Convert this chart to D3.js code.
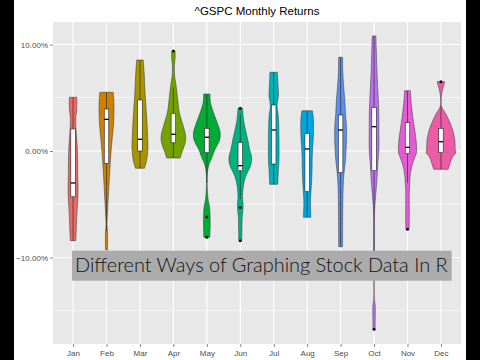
<!DOCTYPE html>
<html><head><meta charset="utf-8">
<script src="https://cdn.jsdelivr.net/npm/d3@7"></script>
<style>html,body{margin:0;padding:0;background:#fff;}svg{display:block;}</style>
</head><body>
<script>
const months = ["Jan","Feb","Mar","Apr","May","Jun","Jul","Aug","Sep","Oct","Nov","Dec"];
const fillColors = ["#F8766D","#DE8C00","#B79F00","#7CAE00","#00BA38","#00C08B","#00BFC4","#00B4F0","#619CFF","#C77CFF","#F564E3","#FF64B0"];
const majorTicks = [-10, 0, 10];
const minorTicks = [-15, -5, 5];
const title = "^GSPC Monthly Returns";
const overlayText = "Different Ways of Graphing Stock Data In R";

// violin profiles: [monthly return %, relative density]
const janProfile = [[5.04,0.25],[3.85,0.24],[3.1,0.18],[1.97,0.2],[0.09,0.29],[-2.07,0.31],[-3.94,0.33],[-6.0,0.25],[-7.9,0.2],[-8.42,0.18]];
const febProfile = [[5.51,0.45],[4.16,0.5],[2.63,0.47],[1.03,0.37],[0.09,0.31],[-1.78,0.22],[-3.0,0.17],[-4.6,0.11],[-6.17,0.05],[-6.95,0.03],[-7.7,0.07],[-8.8,0.07],[-9.3,0.06]];
const marProfile = [[8.54,0.22],[7.32,0.28],[5.73,0.33],[4.16,0.4],[2.63,0.47],[1.03,0.52],[0.3,0.53],[-0.85,0.45],[-1.62,0.3]];
const aprProfile = [[9.39,0.11],[8.92,0.12],[8.36,0.09],[7.79,0.06],[6.95,0.09],[6.04,0.19],[4.79,0.29],[3.57,0.4],[2.28,0.67],[1.34,0.82],[0.75,0.78],[-0.19,0.55],[-0.66,0.45]];
const mayProfile = [[5.35,0.21],[4.48,0.25],[3.57,0.45],[2.63,0.7],[1.69,0.89],[1.03,0.85],[0.09,0.52],[-0.38,0.4],[-0.85,0.27],[-1.31,0.13],[-2.07,0.04],[-3.38,0.03],[-4.6,0.09],[-5.23,0.18],[-6.17,0.22],[-7.1,0.22],[-8.1,0.2]];
const junProfile = [[4.01,0.15],[2.91,0.22],[1.97,0.35],[1.03,0.5],[0.09,0.63],[-0.56,0.75],[-1.31,0.7],[-2.41,0.35],[-3.35,0.2],[-4.29,0.15],[-5.23,0.19],[-6.17,0.13],[-7.42,0.11],[-8.42,0.1]];
const julProfile = [[7.39,0.25],[6.36,0.28],[5.1,0.31],[4.32,0.22],[3.22,0.31],[1.03,0.35],[-0.85,0.35],[-1.78,0.31],[-2.72,0.28],[-3.13,0.27]];
const augProfile = [[3.78,0.35],[2.91,0.42],[1.66,0.42],[0.4,0.37],[-0.85,0.33],[-1.47,0.33],[-3.03,0.29],[-4.6,0.22],[-6.23,0.25]];
const sepProfile = [[8.8,0.13],[7.3,0.15],[5.73,0.22],[4.79,0.28],[3.54,0.32],[2.28,0.39],[1.03,0.39],[-0.85,0.32],[-1.78,0.25],[-2.72,0.19],[-4.6,0.15],[-7.7,0.13],[-8.99,0.13]];
const octProfile = [[10.8,0.12],[9.48,0.15],[7.61,0.19],[5.73,0.25],[3.85,0.31],[1.97,0.32],[0.09,0.32],[-1.15,0.25],[-2.72,0.19],[-4.29,0.1],[-5.82,0.03],[-9.5,0.02],[-13.8,0.02],[-14.2,0.05],[-14.6,0.08],[-15.56,0.08],[-16.74,0.07]];
const novProfile = [[5.66,0.19],[4.48,0.25],[3.22,0.35],[1.97,0.48],[0.72,0.59],[-0.22,0.59],[-0.54,0.5],[-1.47,0.28],[-2.41,0.17],[-3.03,0.15],[-3.66,0.12],[-6.17,0.12],[-7.35,0.11]];
const decProfile = [[6.51,0.25],[6.36,0.23],[5.73,0.1],[5.1,0.03],[4.16,0.05],[3.54,0.3],[2.91,0.52],[1.97,0.78],[1.03,0.92],[0.09,0.95],[-0.22,0.97],[-0.54,0.77],[-1.15,0.61],[-1.72,0.48]];
const profiles = [janProfile,febProfile,marProfile,aprProfile,mayProfile,junProfile,julProfile,augProfile,sepProfile,octProfile,novProfile,decProfile];

// boxplot statistics (%)
const q3s      = [2.07, 3.94, 4.79, 3.54, 2.13, 0.8, 4.32, 1.66, 3.38, 4.1, 2.66, 2.13];
const medians  = [-3.0, 2.97, 1.1, 1.57, 1.29, -1.38, 1.97, 0.19, 1.97, 2.28, 0.34, 0.87];
const q1s      = [-4.3, -1.16, 0.0, 0.77, -0.16, -1.85, -1.22, -3.82, -2.03, -1.85, -0.25, -0.16];
const whiskHi  = [5.04, 5.51, 8.54, 6.0, 5.35, 3.5, 7.39, 3.78, 8.8, 10.8, 5.66, 4.2];
const whiskLo  = [-8.42, -7.5, -1.62, -0.66, -3.0, -4.5, -3.13, -6.23, -8.99, -9.5, -3.0, -1.72];
const outliers = [[], [], [], [9.39], [-6.2, -8.1], [4.01, -5.3, -8.42], [], [], [], [-16.74], [-7.35], [6.51]];

const W = 480, H = 360;
const svg = d3.select("body").append("svg").attr("width", W).attr("height", H);
svg.append("rect").attr("width", W).attr("height", H).attr("fill", "#fff");

const panel = {l: 53, r: 461, t: 22, b: 344};
const x = d3.scalePoint().domain(months).range([panel.l, panel.r]).padding(0.6);
const y = d3.scaleLinear().domain([-18.12, 12.11]).range([panel.b, panel.t]);
const wScale = d3.scaleLinear().domain([0, 1]).range([0, x.step() * 0.45]);
const color = d3.scaleOrdinal().domain(months).range(fillColors.map(c => d3.color(c).darker(0.22).formatHex()));

svg.append("rect").attr("x", panel.l).attr("y", panel.t).attr("width", panel.r - panel.l).attr("height", panel.b - panel.t).attr("fill", "#E8E8E8");

const grid = svg.append("g");
grid.selectAll("line.minor").data(minorTicks).join("line")
  .attr("x1", panel.l).attr("x2", panel.r).attr("y1", d => y(d)).attr("y2", d => y(d))
  .attr("stroke", "#fff").attr("stroke-width", 0.6);
grid.selectAll("line.major").data(majorTicks).join("line")
  .attr("x1", panel.l).attr("x2", panel.r).attr("y1", d => y(d)).attr("y2", d => y(d))
  .attr("stroke", "#fff").attr("stroke-width", 1.1);
grid.selectAll("line.vx").data(months).join("line")
  .attr("x1", d => x(d)).attr("x2", d => x(d)).attr("y1", panel.t).attr("y2", panel.b)
  .attr("stroke", "#fff").attr("stroke-width", 1.1);

// violins
const vg = svg.append("g");
months.forEach((m, i) => {
  const cx = x(m);
  const area = d3.area()
    .curve(d3.curveCatmullRom.alpha(0.5))
    .y(d => y(d[0]))
    .x0(d => cx - wScale(d[1]))
    .x1(d => cx + wScale(d[1]));
  vg.append("path").datum(profiles[i]).attr("d", area)
    .attr("fill", color(m)).attr("stroke", "#333").attr("stroke-width", 0.5);
});

// boxplots
const bw = 4.5;
const bg = svg.append("g");
months.forEach((m, i) => {
  const cx = x(m);
  bg.append("line").attr("x1", cx).attr("x2", cx).attr("y1", y(q3s[i])).attr("y2", y(whiskHi[i])).attr("stroke", "#222").attr("stroke-width", 0.6);
  bg.append("line").attr("x1", cx).attr("x2", cx).attr("y1", y(q1s[i])).attr("y2", y(whiskLo[i])).attr("stroke", "#222").attr("stroke-width", 0.6);
  bg.append("rect").attr("x", cx - bw / 2).attr("y", y(q3s[i])).attr("width", bw).attr("height", y(q1s[i]) - y(q3s[i]))
    .attr("fill", "#fff").attr("stroke", "#222").attr("stroke-width", 0.6);
  bg.append("line").attr("x1", cx - bw / 2).attr("x2", cx + bw / 2).attr("y1", y(medians[i])).attr("y2", y(medians[i]))
    .attr("stroke", "#000").attr("stroke-width", 1.3);
  bg.selectAll(null).data(outliers[i]).join("circle")
    .attr("cx", cx).attr("cy", d => y(d)).attr("r", 1.5).attr("fill", "#111");
});

// axes
const yAxis = svg.append("g").attr("transform", `translate(${panel.l},0)`)
  .call(d3.axisLeft(y).tickValues(majorTicks).tickSize(3).tickPadding(2).tickFormat(d => d3.format(".2f")(d) + "%"));
yAxis.select(".domain").remove();
yAxis.selectAll(".tick line").attr("stroke", "#333").attr("stroke-width", 0.6);
yAxis.selectAll(".tick text").attr("fill", "#4D4D4D").attr("font-size", 8).attr("font-family", "Liberation Sans, Arial, sans-serif");

const xAxis = svg.append("g").attr("transform", `translate(0,${panel.b})`)
  .call(d3.axisBottom(x).tickSize(3).tickPadding(3));
xAxis.select(".domain").remove();
xAxis.selectAll(".tick line").attr("stroke", "#333").attr("stroke-width", 0.6);
xAxis.selectAll(".tick text").attr("fill", "#4D4D4D").attr("font-size", 8).attr("font-family", "Liberation Sans, Arial, sans-serif");

svg.append("text").attr("x", (panel.l + panel.r) / 2).attr("y", 15).attr("text-anchor", "middle")
  .attr("font-family", "Liberation Sans, Arial, sans-serif").attr("font-size", 11.5).attr("fill", "#000").text(title);

// overlay caption
svg.append("rect").attr("x", 72).attr("y", 250.7).attr("width", 379.7).attr("height", 30).attr("fill", "#ABABAB");
const cap = svg.append("text").attr("x", 75).attr("y", 272).attr("font-family", "Lato, 'Open Sans', sans-serif")
  .attr("font-weight", 300).attr("font-size", 20).attr("fill", "#111").text(overlayText);
const len = cap.node().getComputedTextLength();
cap.attr("font-size", 20 * 373 / len);

// letterbox borders
svg.append("rect").attr("x", 0).attr("y", 0).attr("width", 14).attr("height", H).attr("fill", "#000");
svg.append("rect").attr("x", 466).attr("y", 0).attr("width", 14).attr("height", H).attr("fill", "#000");
</script>
</body></html>
